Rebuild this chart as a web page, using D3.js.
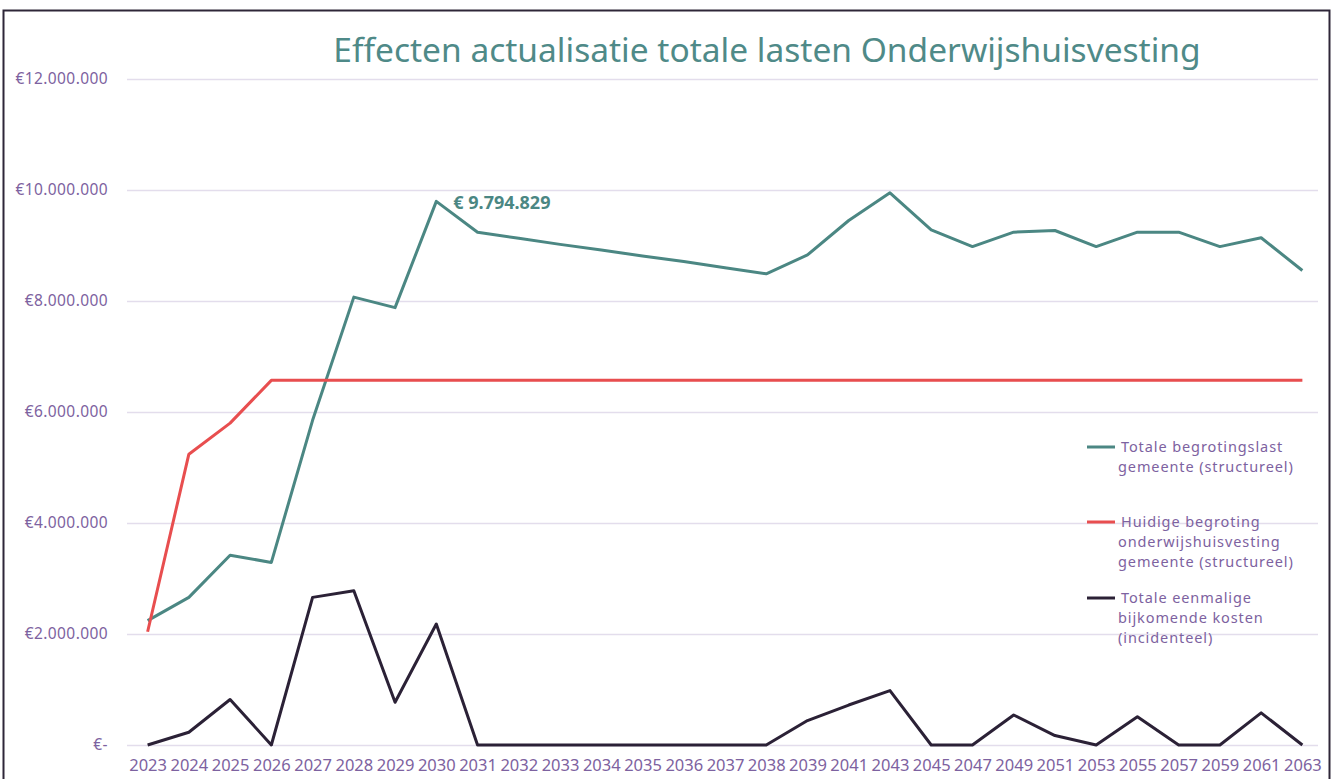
<!DOCTYPE html>
<html>
<head>
<meta charset="utf-8">
<script src="https://cdn.jsdelivr.net/npm/d3@7"></script>
<style>
  body { margin: 0; background: #fff; }
  svg text { font-family: "Noto Sans", "DejaVu Sans", sans-serif; }
</style>
</head>
<body>
<div id="chart"></div>
<script>
var svgWidth = 1333;
var svgHeight = 779;

// categories (x axis)
var years = ["2023", "2024", "2025", "2026", "2027", "2028", "2029", "2030", "2031",
    "2032", "2033", "2034", "2035", "2036", "2037", "2038", "2039", "2041", "2043",
    "2045", "2047", "2049", "2051", "2053", "2055", "2057", "2059", "2061", "2063"];

// Totale begrotingslast gemeente (structureel)
var totaalStructureel = [2240000, 2660000, 3420000, 3290000, 5850000, 8070000, 7880000, 9794829, 9240000,
    9130000, 9020000, 8920000, 8810000, 8710000, 8600000, 8490000, 8830000, 9450000, 9950000,
    9280000, 8980000, 9240000, 9270000, 8980000, 9240000, 9240000, 8980000, 9140000, 8550000];

// Huidige begroting onderwijshuisvesting gemeente (structureel)
var huidigeBegroting = [2040000, 5240000, 5800000, 6570000, 6570000, 6570000, 6570000, 6570000, 6570000,
    6570000, 6570000, 6570000, 6570000, 6570000, 6570000, 6570000, 6570000, 6570000, 6570000,
    6570000, 6570000, 6570000, 6570000, 6570000, 6570000, 6570000, 6570000, 6570000, 6570000];

// Totale eenmalige bijkomende kosten (incidenteel)
var eenmalig = [0, 230000, 820000, 0, 2660000, 2780000, 770000, 2180000, 0,
    0, 0, 0, 0, 0, 0, 0, 440000, 720000, 980000,
    0, 0, 540000, 170000, 0, 510000, 0, 0, 580000, 0];

var yTicks = [0, 2000000, 4000000, 6000000, 8000000, 10000000, 12000000];

var series = [
    { name: ["Totale begrotingslast", "gemeente (structureel)"], values: totaalStructureel, color: "#4b8783" },
    { name: ["Huidige begroting", "onderwijshuisvesting", "gemeente (structureel)"], values: huidigeBegroting, color: "#e84e4f" },
    { name: ["Totale eenmalige", "bijkomende kosten", "(incidenteel)"], values: eenmalig, color: "#2b2136" }
];

var margin = { top: 79, right: 10, bottom: 34, left: 127 };
var plotRight = 1323;

var svg = d3.select("#chart")
    .append("svg")
    .attr("width", svgWidth)
    .attr("height", svgHeight);

// frame
svg.append("rect")
    .attr("x", 3.5)
    .attr("y", 10.5)
    .attr("width", 1326)
    .attr("height", 790)
    .attr("fill", "none")
    .attr("stroke", "#2e2638")
    .attr("stroke-width", 2);

var x = d3.scalePoint()
    .domain(years)
    .range([margin.left, plotRight])
    .padding(0.5);

var y = d3.scaleLinear()
    .domain([0, 12000000])
    .range([745, 79]);

var euro = function (v) {
    if (v === 0) return "€-";
    return "€" + d3.format(",")(v).replace(/,/g, ".");
};

// y axis + gridlines
var yAxis = svg.append("g")
    .attr("transform", `translate(${margin.left},0)`)
    .call(d3.axisLeft(y)
        .tickValues(yTicks)
        .tickSize(-(1318 - margin.left))
        .tickPadding(19)
        .tickFormat(euro));
yAxis.select(".domain").remove();
yAxis.selectAll(".tick line").attr("stroke", "#e3ddec").attr("stroke-width", 1.5);
yAxis.selectAll(".tick text").attr("fill", "#7d62a0").style("font-size", "15.5px").style("letter-spacing", "0.4px");

// x axis
var xAxis = svg.append("g")
    .attr("transform", "translate(0,745)")
    .call(d3.axisBottom(x).tickSize(0).tickPadding(14));
xAxis.select(".domain").remove();
xAxis.selectAll(".tick text").attr("fill", "#7d62a0").style("font-size", "16.5px");

// lines
var line = d3.line()
    .x(function (d, i) { return x(years[i]); })
    .y(function (d) { return y(d); });

svg.selectAll(".series")
    .data(series)
    .enter()
    .append("path")
    .attr("class", "series")
    .attr("d", function (d) { return line(d.values); })
    .attr("fill", "none")
    .attr("stroke", function (d) { return d.color; })
    .attr("stroke-width", 3)
    .attr("stroke-linejoin", "round");

// data label at the 2030 peak
svg.append("text")
    .attr("x", x("2030") + 17)
    .attr("y", y(totaalStructureel[7]) + 8)
    .attr("fill", "#4b8783")
    .style("font-size", "18px")
    .style("font-weight", "bold")
    .text("€ 9.794.829");

// title
svg.append("text")
    .attr("x", 767)
    .attr("y", 62)
    .attr("text-anchor", "middle")
    .attr("fill", "#4f8a88")
    .style("font-size", "33.5px")
    .text("Effecten actualisatie totale lasten Onderwijshuisvesting");

// legend
var legendY = [447, 522, 598];
var legend = svg.selectAll(".legend")
    .data(series)
    .enter()
    .append("g")
    .attr("class", "legend")
    .attr("transform", function (d, i) { return `translate(1087,${legendY[i]})`; });

legend.append("line")
    .attr("x1", 0)
    .attr("x2", 28)
    .attr("stroke", function (d) { return d.color; })
    .attr("stroke-width", 3);

legend.append("text")
    .attr("fill", "#7d62a0")
    .style("font-size", "14.5px")
    .style("letter-spacing", "0.9px")
    .selectAll("tspan")
    .data(function (d) { return d.name; })
    .enter()
    .append("tspan")
    .attr("x", function (d, i) { return i === 0 ? 34 : 31; })
    .attr("y", function (d, i) { return i * 20 + 5; })
    .text(function (d) { return d; });
</script>
</body>
</html>
